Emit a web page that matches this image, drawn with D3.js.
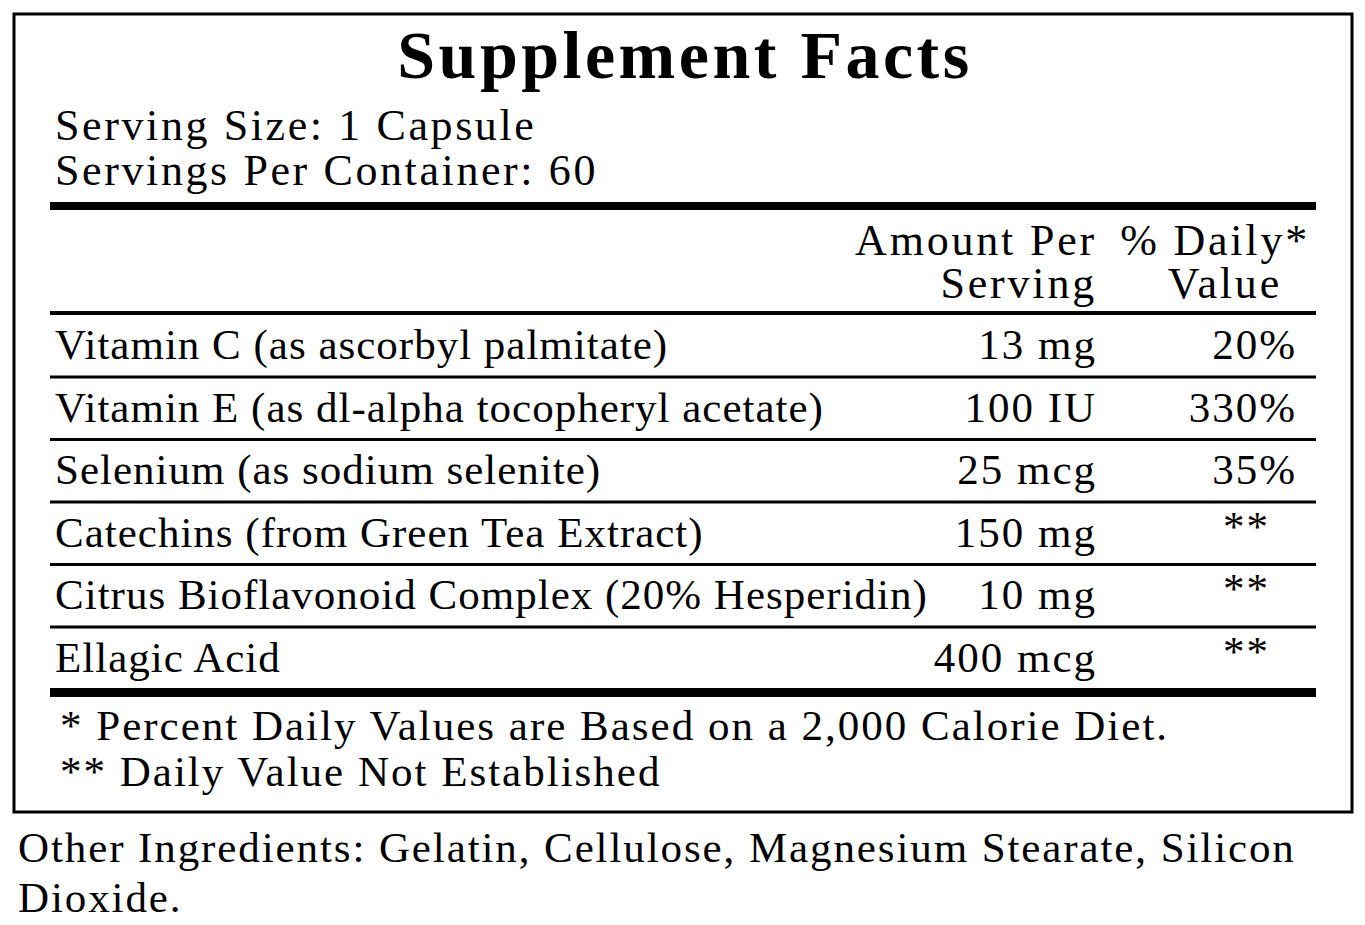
<!DOCTYPE html>
<html><head><meta charset="utf-8">
<script src="https://cdn.jsdelivr.net/npm/d3@7"></script>
<style>body{margin:0;background:#fff}text{font-family:"Liberation Serif","DejaVu Serif",serif;fill:#000}</style>
</head><body><div id="label"></div>
<script>
// label data
const nutrients = ["Vitamin C (as ascorbyl palmitate)", "Vitamin E (as dl-alpha tocopheryl acetate)",
  "Selenium (as sodium selenite)", "Catechins (from Green Tea Extract)",
  "Citrus Bioflavonoid Complex (20% Hesperidin)", "Ellagic Acid"];
const amounts = ["13 mg", "100 IU", "25 mcg", "150 mg", "10 mg", "400 mcg"];
const dailyValues = ["20%", "330%", "35%", "**", "**", "**"];
const servingLines = ["Serving Size: 1 Capsule", "Servings Per Container: 60"];
const footnotes = ["* Percent Daily Values are Based on a 2,000 Calorie Diet.", "** Daily Value Not Established"];
const otherLines = ["Other Ingredients: Gelatin, Cellulose, Magnesium Stearate, Silicon", "Dioxide."];

const W = 1365, H = 925;
const svg = d3.select("#label").append("svg").attr("width", W).attr("height", H);

// outer box
svg.append("rect").attr("x", 14).attr("y", 14).attr("width", 1338).attr("height", 798)
  .attr("fill", "none").attr("stroke", "#000").attr("stroke-width", 3);

svg.append("text").attr("x", 685).attr("y", 78).attr("text-anchor", "middle")
  .attr("font-size", 68).attr("font-weight", "bold").attr("letter-spacing", 3.5).text("Supplement Facts");

svg.selectAll(".serv").data(servingLines).join("text")
  .attr("x", 55).attr("y", (d, i) => 140 + i * 45).attr("font-size", 44).attr("letter-spacing", 2.6).text(d => d);

const bar = (y, h) => svg.append("rect").attr("x", 50).attr("y", y).attr("width", 1266).attr("height", h).attr("fill", "#000");
bar(202, 8);

const head = (x, yy, t) => svg.append("text").attr("x", x).attr("y", yy).attr("text-anchor", "end")
  .attr("font-size", 44).attr("letter-spacing", 2.8).text(t);
head(1097, 255, "Amount Per");
head(1097, 298, "Serving");
head(1310, 255, "% Daily*");
head(1282, 298, "Value");
bar(311, 4);

// rows
const y = d3.scaleBand().domain(d3.range(nutrients.length)).range([315, 690]);
const rows = svg.selectAll(".row").data(nutrients).join("g")
  .attr("transform", (d, i) => `translate(0,${y(i)})`);
rows.append("text").attr("x", 55).attr("y", 44).attr("font-size", 43).attr("letter-spacing", 1).text(d => d);
rows.append("text").attr("x", 1097).attr("y", 44).attr("text-anchor", "end").attr("font-size", 43).attr("letter-spacing", 2)
  .text((d, i) => amounts[i]);
rows.append("text").attr("x", (d, i) => dailyValues[i] === "**" ? 1270 : 1297).attr("y", (d, i) => dailyValues[i] === "**" ? 38 : 44)
  .attr("text-anchor", "end").attr("font-size", 43).attr("letter-spacing", 2).text((d, i) => dailyValues[i]);
rows.filter((d, i) => i < nutrients.length - 1).append("rect")
  .attr("x", 50).attr("y", y.bandwidth() - 2).attr("width", 1266).attr("height", 3).attr("fill", "#000");
bar(688, 9);

svg.selectAll(".foot").data(footnotes).join("text")
  .attr("x", 60).attr("y", (d, i) => 740 + i * 46).attr("font-size", 43).attr("letter-spacing", 2).text(d => d);

svg.selectAll(".other").data(otherLines).join("text")
  .attr("x", 18).attr("y", (d, i) => 862 + i * 50).attr("font-size", 43).attr("letter-spacing", 1.9).text(d => d);
</script></body></html>
